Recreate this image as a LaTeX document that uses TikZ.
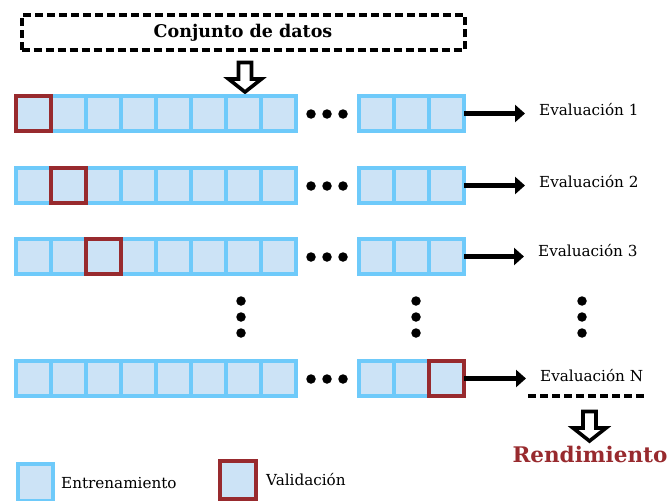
\documentclass[tikz,border=0pt]{standalone}
\usepackage{fontspec}
\setmainfont{DejaVu Serif}
\usetikzlibrary{arrows.meta}
\definecolor{cellfill}{RGB}{204,227,246}
\definecolor{cellblue}{RGB}{110,202,250}
\definecolor{valred}{RGB}{152,42,46}
\begin{document}
\begin{tikzpicture}[x=1pt,y=-1pt,
 cell/.style={draw=cellblue, fill=cellfill, line width=4pt, minimum width=35pt, minimum height=35pt, inner sep=0pt, outer sep=0pt, anchor=north west},
 valcell/.style={cell, draw=valred, line width=4.4pt},
 evl/.style={anchor=base west, inner sep=0pt, font=\fontsize{15.2}{18}\selectfont},
 conn/.style={line width=4.4pt, -{Triangle[length=10pt,width=17pt]}, shorten >=14pt},
 dotn/.style={circle, fill=black, minimum size=9.5pt, inner sep=0pt},
 hollow/.pic={\draw[line width=3.6pt, fill=white, line join=miter] (-6.5,0) -- (6.5,0) -- (6.5,16.5) -- (16.5,16.5) -- (0,29.5) -- (-16.5,16.5) -- (-6.5,16.5) -- cycle;}
]
\useasboundingbox (0,0) rectangle (668,500);
% title box
\node[draw, line width=4pt, dash pattern=on 8pt off 4pt, minimum width=443pt, minimum height=35pt, inner sep=0pt,
      font=\bfseries\fontsize{17.5}{20}\selectfont] (ds) at (243,33) {Conjunto de datos};
\path (ds.south) ++(2,10) pic {hollow};
% rows
\foreach \r/\yy/\v in {1/96/1, 2/168/2, 3/239/3, 4/361/11}{
  \foreach \i in {1,...,8}{
    \pgfmathsetmacro\xx{16+(\i-1)*35}
    \node[cell] (r\r-\i) at (\xx,\yy) {};
  }
  \foreach \i in {9,10,11}{
    \pgfmathsetmacro\xx{359+(\i-9)*35}
    \node[cell] (r\r-\i) at (\xx,\yy) {};
  }
  \node[valcell] (v\r) at (r\r-\v.north west) {};
  \foreach \k/\dx in {a/311,b/327,c/343}{
    \node[dotn] (h\r\k) at (\dx,\yy+18) {};
  }
}
% evaluation labels
\node[evl] (e1) at (539,115) {Evaluación 1};
\node[evl] (e2) at (539,187) {Evaluación 2};
\node[evl] (e3) at (538,256) {Evaluación 3};
\node[evl] (e4) at (540,381) {Evaluación N};
\foreach \r in {1,2,3,4}{
  \draw[conn] (r\r-11.east) -- (r\r-11.east -| e\r.west);
}
% vertical dots
\foreach \c/\cx in {a/241,b/416,c/582}{
  \foreach \j/\cy in {1/301,2/317,3/333}{
    \node[dotn] (vd\c\j) at (\cx,\cy) {};
  }
}
% result
\coordinate (dl1) at (528,396);
\coordinate (dl2) at (645,396);
\draw[line width=4.2pt, dash pattern=on 8pt off 4pt] (dl1) -- (dl2);
\path (589.5,411.5) pic {hollow};
\node[anchor=base, inner sep=0pt, text=valred, font=\bfseries\fontsize{21.5}{26}\selectfont] (rend) at (590,462) {Rendimiento};
% legend
\node[cell, minimum width=35pt, minimum height=37pt] (lgb) at (18,464) {};
\node[evl] (lgbt) at (61,488) {Entrenamiento};
\node[valcell, minimum width=36pt, minimum height=38pt] (lgr) at (220,461) {};
\node[evl] (lgrt) at (266,485) {Validación};
\end{tikzpicture}
\end{document}
